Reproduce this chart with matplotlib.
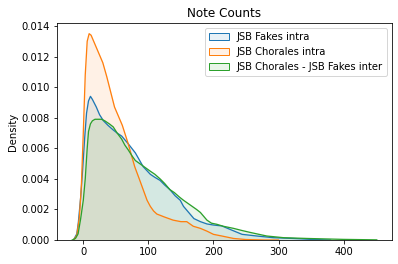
import matplotlib
matplotlib.use("Agg")
import matplotlib.pyplot as plt
from matplotlib.patches import Patch

labels = ["JSB Fakes intra", "JSB Chorales intra", "JSB Chorales - JSB Fakes inter"]
colors = ["#1f77b4", "#ff7f0e", "#2ca02c"]

fakes_x = [-15, -10, -7.7, -4, -1, 2, 5, 8, 11, 14, 20, 25, 31, 38, 46, 52, 59, 69, 80, 92,
           103, 110, 118, 125, 133, 141, 149, 154, 164, 170, 180, 190, 200, 213, 228, 244,
           267, 292, 323, 350, 380]
fakes_y = [0, 0.0004, 0.0011, 0.0028, 0.0046, 0.0066, 0.0083, 0.0091, 0.0094, 0.0092, 0.0087,
           0.0082, 0.0078, 0.0075, 0.0072, 0.0070, 0.0068, 0.0063, 0.0057, 0.0048, 0.0043,
           0.0041, 0.0039, 0.0036, 0.0033, 0.0029, 0.0026, 0.0022, 0.0017, 0.0014, 0.0012,
           0.00105, 0.00098, 0.00092, 0.00065, 0.00037, 0.00026, 0.00015, 0.0001, 0.00004, 0]

chorales_x = [-15, -10, -6, -3, 0, 3, 6, 9, 12, 18, 25, 30, 36, 42, 48, 54, 60, 69, 79, 86,
              92, 98, 103, 108, 113, 125, 138, 150, 159, 169, 180, 190, 200, 213, 231, 250,
              280, 300]
chorales_y = [0, 0.0003, 0.0015, 0.0035, 0.0070, 0.0108, 0.0130, 0.0135, 0.0134, 0.0128,
              0.0121, 0.0116, 0.0107, 0.0097, 0.0087, 0.0081, 0.0075, 0.0063, 0.0048, 0.0040,
              0.0033, 0.0026, 0.0022, 0.0019, 0.0017, 0.0015, 0.0013, 0.0012, 0.0012, 0.0009,
              0.00076, 0.00058, 0.00037, 0.00026, 0.0001, 0.00003, 0.0, 0]

inter_x = [-17, -12, -8, -4, 0, 3, 6, 8, 11, 14, 18, 23, 28, 33, 40, 46, 52, 59, 64, 69, 75,
           80, 90, 103, 110, 118, 125, 133, 140, 148, 154, 164, 174, 180, 190, 197, 205, 215,
           231, 243, 256, 270, 282, 308, 344, 400, 451]
inter_y = [0, 0.0001, 0.0004, 0.0014, 0.0026, 0.0040, 0.0060, 0.0071, 0.0076, 0.0078, 0.0079,
           0.0079, 0.0079, 0.0078, 0.0076, 0.0074, 0.0070, 0.0066, 0.0062, 0.0059, 0.0055,
           0.0052, 0.0049, 0.0045, 0.0043, 0.0040, 0.0037, 0.0033, 0.0031, 0.0028, 0.0026,
           0.0023, 0.0020, 0.0018, 0.0013, 0.0011, 0.00103, 0.0009, 0.00076, 0.00063, 0.0005,
           0.00037, 0.00026, 0.00015, 0.0001, 0.00004, 0.00001]

series = [(fakes_x, fakes_y), (chorales_x, chorales_y), (inter_x, inter_y)]

W, H = 398, 264
fig = plt.figure(figsize=(W / 72, H / 72), dpi=72)
ax = fig.add_axes([57 / W, (H - 240) / H, (392 - 57) / W, (240 - 23) / H])

handles = []
for (xs, ys), c, lab in zip(series, colors, labels):
    ax.fill_between(xs, ys, 0, color=c, alpha=0.1, linewidth=0)
    ax.plot(xs, ys, color=c, linewidth=1.3)
    handles.append(Patch(facecolor=matplotlib.colors.to_rgba(c, 0.1), edgecolor=c, label=lab))

ax.set_xlim(-40.4, 474.4)
ax.set_ylim(0, 0.0142)
ax.set_xticks([0, 100, 200, 300, 400])
ax.set_yticks([0, 0.002, 0.004, 0.006, 0.008, 0.010, 0.012, 0.014])
ax.set_yticklabels(["0.000", "0.002", "0.004", "0.006", "0.008", "0.010", "0.012", "0.014"])
ax.tick_params(labelsize=10)
ax.set_ylabel("Density", fontsize=10)
ax.set_title("Note Counts", fontsize=12)
ax.legend(handles=handles, loc="upper right", fontsize=10)

fig.savefig("out.png", dpi=72)
